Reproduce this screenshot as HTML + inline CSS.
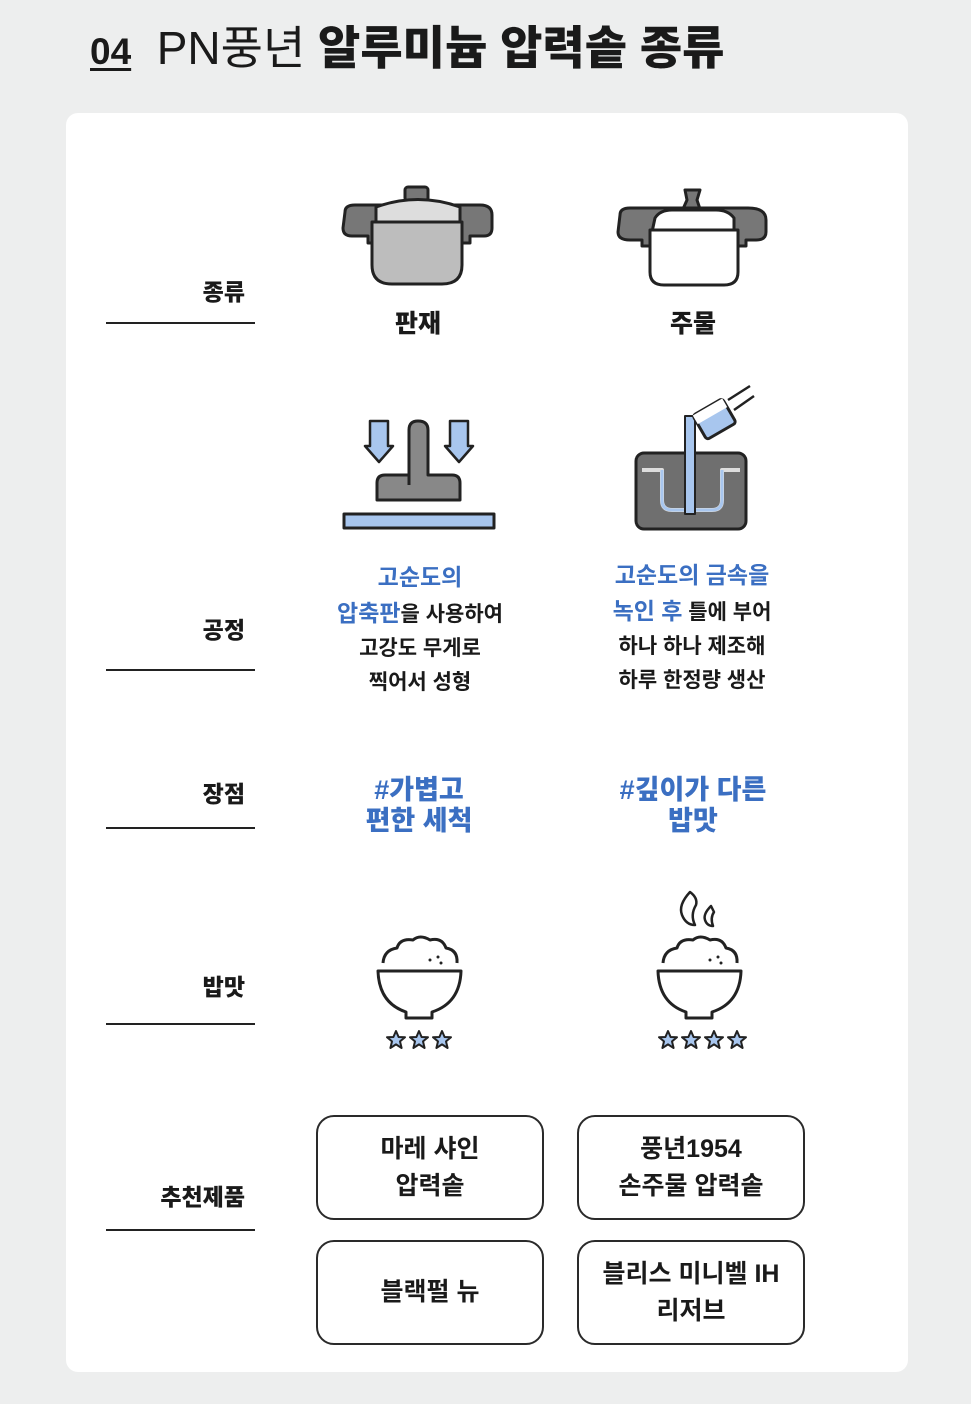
<!DOCTYPE html>
<html><head><meta charset="utf-8">
<style>
body{margin:0;width:971px;height:1404px;background:#edeeee;position:relative;overflow:hidden;font-family:"Liberation Sans","Noto Sans CJK KR",sans-serif;color:#1a1a1a}
.a{position:absolute;white-space:nowrap}
.card{position:absolute;left:66px;top:113px;width:842px;height:1259px;background:#fff;border-radius:12px}
.lbl{position:absolute;right:726px;font-size:23px;font-weight:900;transform:translateY(-50%)}
.ln{position:absolute;left:106px;width:149px;height:2px;background:#222}
.c{position:absolute;transform:translateX(-50%);text-align:center;font-weight:bold;white-space:nowrap}
.b{color:#3b6fc2}
.box{position:absolute;width:224px;height:101px;border:2px solid #2a2a2a;border-radius:18px;display:flex;align-items:center;justify-content:center;text-align:center;font-size:25px;line-height:37px;font-weight:bold}
</style></head><body>
<div class="a" style="left:90px;top:20px;font-size:46px;line-height:56px"><span style="font-weight:bold;text-decoration:underline;text-underline-offset:4px;font-size:37px">04</span>&nbsp; PN풍년 <b style="font-weight:900">알루미늄 압력솥 종류</b></div>
<div class="card"></div>

<svg class="a" style="left:0;top:0" width="971" height="1404" viewBox="0 0 971 1404">
<g stroke="#222" stroke-width="3" stroke-linejoin="round">
<rect x="405" y="187" width="23" height="14" rx="3" fill="#777"/>
<path d="M345 212 Q345 205 355 205 H480 Q492 205 492 215 V228 Q492 236 484 236 H470 V243 H462 V228 H378 V243 H368 V236 H352 Q343 236 343 228Z" fill="#777"/>
<path d="M376 207 Q418 192 460 207 V222 H376Z" fill="#ddd"/>
<path d="M372 222 H462 V265 Q462 284 442 284 H392 Q372 284 372 265Z" fill="#bdbdbd"/>
<path d="M685 190 H700 L697 200 L700 209 H683 L687 200Z" fill="#777"/>
<path d="M620 215 Q620 208 630 208 H748 Q766 208 766 220 V232 Q766 240 756 240 H746 V246 H738 V232 H650 V246 H642 V240 H630 Q618 240 618 232Z" fill="#777"/>
<path d="M655 218 Q660 210 672 210 H716 Q728 210 734 218 V232 H652Z" fill="#fff"/>
<path d="M650 230 H738 V272 Q738 285 724 285 H664 Q650 285 650 272Z" fill="#fff"/>
<path d="M370 421 H388 V446 H393 L379 462 L365 446 H370Z" fill="#a8c6ee" stroke-width="2.5"/>
<path d="M450 421 H468 V446 H473 L459 462 L445 446 H450Z" fill="#a8c6ee" stroke-width="2.5"/>
<path d="M409 485 V430 Q409 421 418 421 Q428 421 428 430 V475 H452 Q460 475 460 483 V500 H377 V483 Q377 475 385 475 H409" fill="#888"/>
<rect x="344" y="514" width="150" height="14" fill="#a8c6ee"/>
<rect x="636" y="453" width="110" height="76" rx="8" fill="#6f6f6f"/>
<path d="M642 470 H662 V500 Q662 510 672 510 H712 Q722 510 722 500 V470 H740" fill="none" stroke="#ddd" stroke-width="4"/>
<path d="M662 470 V500 Q662 510 672 510 H712 Q722 510 722 500 V470" fill="none" stroke="#a8c6ee" stroke-width="3"/>
<rect x="685" y="416" width="10" height="98" fill="#a8c6ee" stroke-width="2"/>
<g transform="rotate(-30 715 420)"><rect x="698" y="405" width="34" height="28" rx="3" fill="#a8c6ee"/><rect x="698" y="405" width="34" height="10" fill="#fff" stroke="none"/></g>
<path d="M728 400 L750 386 M734 410 L754 396" fill="none" stroke-width="2.5"/>
<g fill="none">
<path d="M383 963 Q384 950 397 948 Q400 938 413 940 Q420 934 430 940 Q442 937 446 948 Q458 950 457 963"/>
<path d="M378 971 H461 Q460 1003 432 1012 V1018 H406 V1012 Q379 1003 378 971Z" fill="#fff"/>
<path d="M663 963 Q664 950 677 948 Q680 938 693 940 Q700 934 710 940 Q722 937 726 948 Q738 950 737 963"/>
<path d="M658 971 H741 Q740 1003 712 1012 V1018 H686 V1012 Q659 1003 658 971Z" fill="#fff"/>
<path d="M690 892 Q678 905 682 915 Q686 925 695 925 Q690 915 696 905 Q698 898 690 892Z" stroke-width="2.5"/>
<path d="M711 906 Q703 914 705 920 Q707 926 713 926 Q710 918 714 912Z" stroke-width="2.5"/>
</g>
<g fill="#222" stroke="none"><circle cx="430" cy="960" r="1.5"/><circle cx="438" cy="957" r="1.5"/><circle cx="441" cy="963" r="1.5"/><circle cx="710" cy="960" r="1.5"/><circle cx="718" cy="957" r="1.5"/><circle cx="721" cy="963" r="1.5"/></g>
</g>
<defs><path id="st" d="M0 -9 L2.6 -3 L9 -2.8 L4 1.4 L5.6 8 L0 4.4 L-5.6 8 L-4 1.4 L-9 -2.8 L-2.6 -3Z" fill="#a8c6ee" stroke="#222" stroke-width="2" stroke-linejoin="round"/></defs>
<use href="#st" x="396" y="1040"/><use href="#st" x="419" y="1040"/><use href="#st" x="442" y="1040"/>
<use href="#st" x="668" y="1040"/><use href="#st" x="691" y="1040"/><use href="#st" x="714" y="1040"/><use href="#st" x="737" y="1040"/>
</svg>

<div class="lbl" style="top:290px">종류</div><div class="ln" style="top:322px"></div>
<div class="lbl" style="top:628px">공정</div><div class="ln" style="top:669px"></div>
<div class="lbl" style="top:792px">장점</div><div class="ln" style="top:827px"></div>
<div class="lbl" style="top:985px">밥맛</div><div class="ln" style="top:1023px"></div>
<div class="lbl" style="top:1195px">추천제품</div><div class="ln" style="top:1229px"></div>

<div class="c" style="left:418px;top:304px;font-size:25px;font-weight:900">판재</div>
<div class="c" style="left:693px;top:304px;font-size:25px;font-weight:900">주물</div>

<div class="c" style="left:420px;top:560px;font-size:21px;line-height:34px"><span class="b" style="font-size:23px">고순도의</span><br><span class="b" style="font-size:23px">압축판</span>을 사용하여<br>고강도 무게로<br>찍어서 성형</div>
<div class="c" style="left:692px;top:558px;font-size:21px;line-height:34px"><span class="b" style="font-size:23px">고순도의 금속을</span><br><span class="b" style="font-size:23px">녹인 후</span> 틀에 부어<br>하나 하나 제조해<br>하루 한정량 생산</div>

<div class="c b" style="left:419px;top:775px;font-size:27px;line-height:31px;font-weight:900">#가볍고<br>편한 세척</div>
<div class="c b" style="left:693px;top:775px;font-size:27px;line-height:31px;font-weight:900">#깊이가 다른<br>밥맛</div>

<div class="box" style="left:316px;top:1115px">마레 샤인<br>압력솥</div>
<div class="box" style="left:577px;top:1115px">풍년1954<br>손주물 압력솥</div>
<div class="box" style="left:316px;top:1240px">블랙펄 뉴</div>
<div class="box" style="left:577px;top:1240px">블리스 미니벨 IH<br>리저브</div>
</body></html>
